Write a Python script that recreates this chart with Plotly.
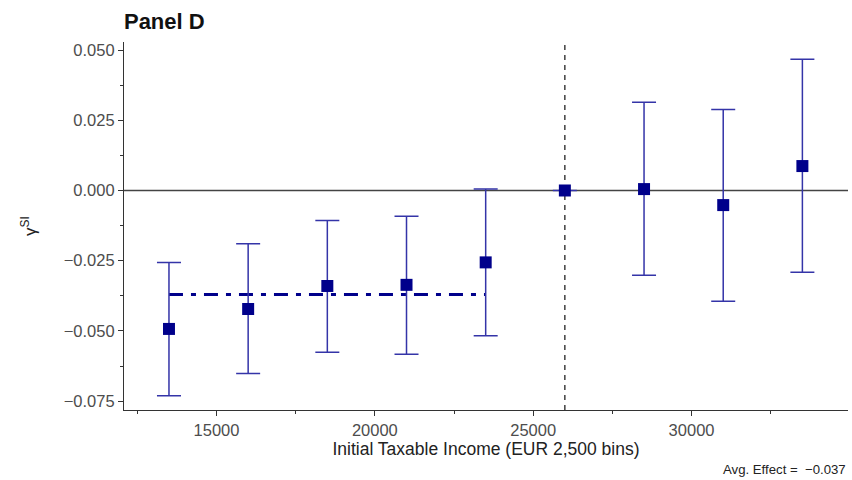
import plotly.graph_objects as go

# Income bin midpoints (EUR) and estimated coefficients with 95% CI bounds
income_bins = [13500, 16000, 18500, 21000, 23500, 26000, 28500, 31000, 33500]
gamma = [-0.0493, -0.0422, -0.0340, -0.0336, -0.0256, 0.0, 0.0005, -0.0052, 0.0087]
ci_upper = [-0.0256, -0.0190, -0.0107, -0.0092, 0.0005, 0.0, 0.0314, 0.0288, 0.0467]
ci_lower = [-0.0731, -0.0652, -0.0576, -0.0583, -0.0517, 0.0, -0.0302, -0.0394, -0.0291]

# Reference bin (omitted category) and the pooled effect below it
reference_bin = 26000
avg_effect = -0.037
avg_span = [13500, 23500]

x_ticks = [15000, 20000, 25000, 30000]
y_ticks = [-0.075, -0.050, -0.025, 0.000, 0.025, 0.050]

NAVY = "#00008B"
BAR = "#3434A8"
AXIS = "#333333"
TICKTXT = "#4D4D4D"
FONT = "Liberation Sans, Arial, sans-serif"

fig = go.Figure()

# zero reference line
fig.add_hline(y=0, line=dict(color="#444444", width=1.4), layer="below")
# vertical dashed line at the reference bin
fig.add_vline(x=reference_bin, line=dict(color="#222222", width=1.3, dash="5px,5px"),
              layer="below")

# pooled average effect line
fig.add_trace(go.Scatter(
    x=avg_span, y=[avg_effect, avg_effect], mode="lines",
    line=dict(color=NAVY, width=3, dash="14px,8px,5px,8px"),
    hoverinfo="skip", showlegend=False,
))

# point estimates with confidence intervals
fig.add_trace(go.Scatter(
    x=income_bins, y=gamma, mode="markers",
    marker=dict(symbol="square", size=12, color=NAVY),
    error_y=dict(
        type="data", symmetric=False,
        array=[u - g for u, g in zip(ci_upper, gamma)],
        arrayminus=[g - l for g, l in zip(gamma, ci_lower)],
        color=BAR, thickness=1.5, width=12,
    ),
    showlegend=False,
))

def fmt_minus(v):
    s = f"{v:.3f}"
    return s.replace("-", "\u2212")

fig.add_annotation(
    x=1, y=0, xref="paper", yref="paper", xanchor="right", yanchor="top",
    yshift=-50, showarrow=False,
    text=f"Avg. Effect =\u00a0 {fmt_minus(avg_effect)}",
    font=dict(family=FONT, size=13.2, color="#222222"),
)

fig.update_layout(
    width=852, height=480,
    margin=dict(l=124, r=4, t=42, b=70),
    plot_bgcolor="white", paper_bgcolor="white",
    font=dict(family=FONT, color=TICKTXT),
    title=dict(text="<b>Panel D</b>", x=0.1455, xanchor="left",
               yref="container", y=1 - 21 / 480, yanchor="middle",
               font=dict(family=FONT, size=22, color="#111111")),
    xaxis=dict(
        range=[12080, 34940], tickvals=x_ticks, ticktext=[str(v) for v in x_ticks],
        showgrid=False, zeroline=False, showline=True, linecolor=AXIS, linewidth=1.2,
        ticks="outside", ticklen=5, tickcolor=AXIS, tickwidth=1.1,
        tickfont=dict(size=16.5, color=TICKTXT),
        minor=dict(tickvals=[12500, 17500, 22500, 27500, 32500], ticks="outside",
                   ticklen=3, tickcolor=AXIS, showgrid=False),
        title=dict(text="Initial Taxable Income (EUR 2,500 bins)", standoff=4,
                   font=dict(size=17.5, color="#222222")),
    ),
    yaxis=dict(
        range=[-0.07817, 0.05288], tickvals=y_ticks, ticktext=[fmt_minus(v) for v in y_ticks],
        showgrid=False, zeroline=False, showline=True, linecolor=AXIS, linewidth=1.2,
        ticks="outside", ticklen=5, tickcolor=AXIS, tickwidth=1.1,
        tickfont=dict(size=16.5, color=TICKTXT),
        minor=dict(tickvals=[-0.0625, -0.0375, -0.0125, 0.0125, 0.0375], ticks="outside",
                   ticklen=3, tickcolor=AXIS, showgrid=False),
        title=dict(text="\u03b3<sup>SI</sup>", standoff=22,
                   font=dict(size=17, color="#222222")),
    ),
)

fig.write_html("out.html")
